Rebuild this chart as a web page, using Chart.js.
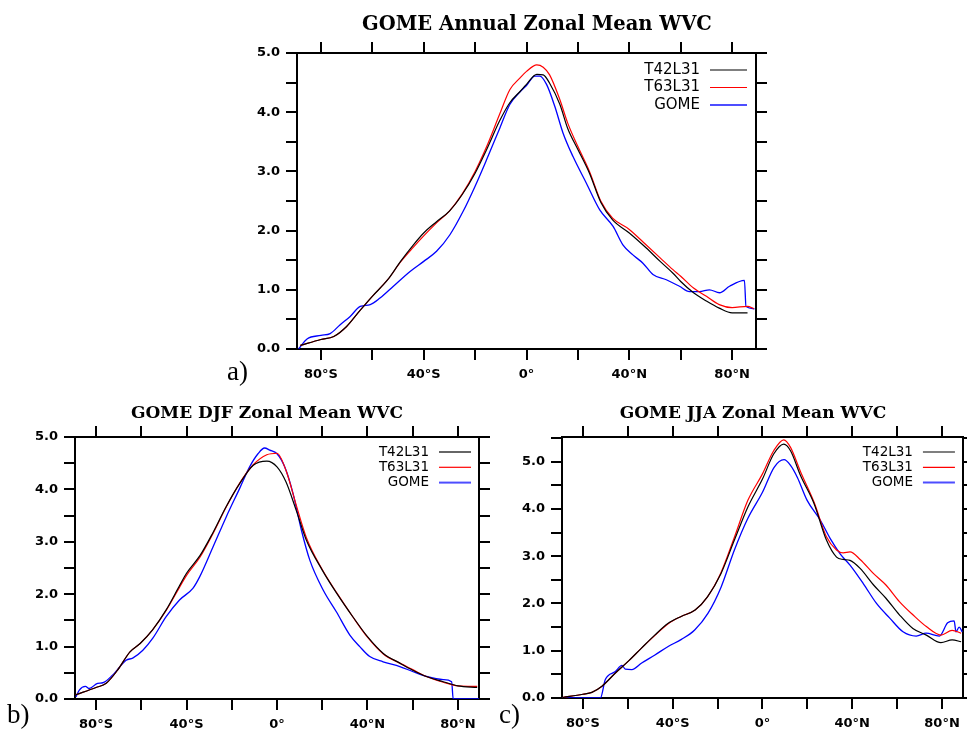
<!DOCTYPE html>
<html>
<head>
<meta charset="utf-8">
<script src="https://cdn.jsdelivr.net/npm/chart.js@4"></script>
<style>
  body { margin: 0; background: #fff; }
  #wrap { position: relative; width: 967px; height: 729px; }
  #wrap canvas { position: absolute; left: 0; top: 0; }
</style>
</head>
<body>
<div id="wrap">
  <canvas id="annual" width="967" height="729"></canvas>
  <canvas id="djf" width="967" height="729"></canvas>
  <canvas id="jja" width="967" height="729"></canvas>
</div>
<script>
// zonal mean water vapour column, latitude in degrees (S negative)
const annLat = [-88, -80, -75, -70, -65, -60, -54, -49, -44, -40, -35, -30, -25, -20, -15.5, -10.5, -6.5, -2.5, 0, 4, 6.5, 9, 13, 16, 20, 24.5, 29, 33.5, 40, 46.5, 52, 57, 60, 65, 70, 75, 80, 86, 88.5];
const annT42 = [0.06, 0.16, 0.21, 0.38, 0.64, 0.89, 1.17, 1.48, 1.76, 1.96, 2.15, 2.33, 2.61, 2.97, 3.37, 3.85, 4.16, 4.35, 4.47, 4.64, 4.63, 4.49, 4.13, 3.73, 3.37, 2.97, 2.47, 2.18, 1.96, 1.71, 1.48, 1.28, 1.14, 0.95, 0.81, 0.69, 0.61, 0.61, null];
const annT63 = [0.06, 0.16, 0.21, 0.38, 0.64, 0.89, 1.17, 1.47, 1.72, 1.91, 2.13, 2.33, 2.62, 3.00, 3.42, 3.96, 4.38, 4.58, 4.69, 4.80, 4.76, 4.63, 4.21, 3.82, 3.42, 3.00, 2.49, 2.21, 2.02, 1.76, 1.54, 1.34, 1.23, 1.03, 0.89, 0.75, 0.70, 0.72, 0.68];
const annGomeLat = [-88.7, -85.4, -80, -76.4, -72.5, -68.6, -64.7, -60.8, -57, -51.8, -45.3, -40, -35, -29.8, -24.6, -20, -15.5, -10.4, -6.5, -2.6, 0, 3.2, 5.2, 7.8, 11, 14.2, 18.1, 23.3, 28.5, 33.7, 37.5, 41.4, 45.3, 49.2, 54.4, 59.5, 63.4, 67.3, 71.2, 75.1, 79, 84.8, 85.4, 88.7];
const annGome = [0.0, 0.17, 0.23, 0.26, 0.41, 0.55, 0.72, 0.75, 0.86, 1.06, 1.31, 1.48, 1.65, 1.93, 2.33, 2.75, 3.20, 3.73, 4.13, 4.34, 4.45, 4.61, 4.61, 4.47, 4.10, 3.65, 3.25, 2.80, 2.35, 2.07, 1.76, 1.59, 1.45, 1.26, 1.17, 1.06, 0.97, 0.97, 1.00, 0.95, 1.06, 1.16, 0.72, 0.68];

const djfLat = [-89, -80, -75.5, -70.5, -65, -60.5, -55, -49, -43, -40, -34, -28.5, -22.5, -16.5, -10.5, -4.5, 0, 4, 8.5, 13, 20, 26.5, 33.5, 40, 47, 54.5, 60, 66, 73.5, 80, 88.5];
const djfT42 = [0.08, 0.22, 0.30, 0.55, 0.90, 1.06, 1.32, 1.70, 2.17, 2.40, 2.74, 3.16, 3.67, 4.11, 4.46, 4.54, 4.43, 4.14, 3.60, 3.03, 2.46, 2.01, 1.57, 1.19, 0.87, 0.68, 0.55, 0.43, 0.33, 0.25, 0.22];
const djfT63 = [0.08, 0.22, 0.30, 0.55, 0.90, 1.06, 1.32, 1.69, 2.14, 2.36, 2.71, 3.14, 3.66, 4.12, 4.47, 4.66, 4.69, 4.36, 3.70, 3.08, 2.47, 2.02, 1.57, 1.18, 0.86, 0.68, 0.56, 0.43, 0.32, 0.25, 0.24];
const djfGomeLat = [-88.9, -87.4, -84.7, -83, -79.3, -77, -72.6, -66.7, -63.8, -59.3, -54.9, -49, -43.1, -37.2, -34.2, -28.3, -22.4, -16.5, -12.1, -8.4, -5.5, -3.2, 0, 3.4, 7.1, 10.8, 14.5, 20.4, 26.3, 32.2, 36.6, 41, 46.9, 54.3, 60.2, 66.1, 73.5, 77.2, 77.9, 89.4];
const djfGome = [0.04, 0.17, 0.24, 0.20, 0.30, 0.31, 0.46, 0.74, 0.78, 0.93, 1.16, 1.57, 1.89, 2.11, 2.33, 2.90, 3.48, 4.02, 4.43, 4.68, 4.79, 4.75, 4.68, 4.43, 3.92, 3.22, 2.65, 2.08, 1.66, 1.22, 1.00, 0.81, 0.71, 0.62, 0.52, 0.43, 0.37, 0.33, 0.0, 0.0];

const jjaLat = [-89, -80, -76, -71.5, -65.5, -59.5, -54, -48, -42, -36, -30, -24.5, -18.5, -12.5, -6.5, 0, 5, 9.5, 12.5, 17, 23, 28.5, 33, 36, 39, 43.5, 49.5, 55, 61, 67, 73, 79.5, 84.5, 88.5];
const jjaT42 = [0.01, 0.08, 0.12, 0.25, 0.53, 0.79, 1.05, 1.33, 1.58, 1.73, 1.86, 2.14, 2.63, 3.34, 4.04, 4.63, 5.16, 5.37, 5.23, 4.70, 4.11, 3.34, 2.98, 2.93, 2.91, 2.74, 2.39, 2.11, 1.76, 1.47, 1.33, 1.17, 1.23, 1.19];
const jjaT63 = [0.01, 0.08, 0.12, 0.25, 0.53, 0.79, 1.05, 1.32, 1.57, 1.73, 1.86, 2.14, 2.65, 3.40, 4.18, 4.74, 5.23, 5.46, 5.30, 4.78, 4.14, 3.41, 3.13, 3.07, 3.09, 2.93, 2.63, 2.39, 2.04, 1.76, 1.51, 1.33, 1.43, 1.37];
const jjaGomeLat = [-89, -72.2, -70, -65.5, -62.6, -61.1, -58.2, -53.8, -47.9, -42, -36.1, -30.2, -24.3, -18.4, -12.5, -6.6, 0, 5.2, 9.6, 12.5, 15.5, 19.9, 25.8, 30.2, 34.6, 39, 44.9, 50.8, 56.7, 62.6, 68.5, 72.9, 78.8, 82.5, 85.4, 86.2, 87.6, 89];
const jjaGome = [0, 0, 0.39, 0.56, 0.69, 0.61, 0.60, 0.74, 0.91, 1.09, 1.24, 1.44, 1.79, 2.35, 3.13, 3.79, 4.35, 4.88, 5.04, 4.92, 4.67, 4.18, 3.76, 3.37, 3.05, 2.81, 2.42, 2.00, 1.69, 1.40, 1.31, 1.37, 1.31, 1.59, 1.63, 1.40, 1.50, 1.40];

const latTicks = [-80, -60, -40, -20, 0, 20, 40, 60, 80];
const seriesNames = ["T42L31", "T63L31", "GOME"];
const seriesColors = ["#000000", "#ff0000", "#0000ff"];

const W = 967, H = 729;
const tickFont = { family: "DejaVu Sans", size: 13, weight: "bold" };

function latLabel(v) {
  if (v === 0) return "0\u00b0";
  return Math.abs(v) + "\u00b0" + (v < 0 ? "S" : "N");
}

function pts(lat, vals) {
  return lat.map((x, i) => ({ x: x, y: vals[i] }));
}

function halfSteps(max) {
  const out = [];
  for (let i = 0; i * 0.5 <= max + 1e-9; i++) out.push({ value: i * 0.5 });
  return out;
}

// titles, panel letters and the little line legend
const panelText = {
  id: "panelText",
  afterDraw(chart, args, o) {
    const ctx = chart.ctx;
    const a = chart.chartArea;
    ctx.save();
    ctx.fillStyle = "#000";
    ctx.textAlign = "center";
    ctx.textBaseline = "alphabetic";
    ctx.font = o.titleFont;
    ctx.fillText(o.title, o.titleX, o.titleY);

    ctx.textAlign = "left";
    ctx.font = '27px "Liberation Serif"';
    ctx.fillText(o.letter, o.letterX, o.letterY);

    ctx.font = o.legendFont;
    ctx.textAlign = "right";
    ctx.textBaseline = "middle";
    seriesNames.forEach((name, i) => {
      const y = a.top + o.legendTop + i * o.legendStep;
      ctx.fillStyle = "#000";
      ctx.fillText(name, a.right - o.legendInset - o.legendLen - 10, y);
      ctx.strokeStyle = i === 2 ? "#4d4dff" : seriesColors[i];
      ctx.lineWidth = i === 2 ? 2 : 1.2;
      ctx.beginPath();
      ctx.moveTo(a.right - o.legendInset - o.legendLen, y);
      ctx.lineTo(a.right - o.legendInset, y);
      ctx.stroke();
    });
    ctx.restore();
  }
};

function frameAxis(position, extra) {
  return Object.assign({
    type: "linear",
    position: position,
    grid: { drawOnChartArea: false, drawTicks: true, tickLength: 11, lineWidth: 2, color: "#000" },
    border: { display: true, width: 2, color: "#000" }
  }, extra);
}

function makePanel(id, box, ymax, series, text) {
  const yw = 50, xh = 30;
  const xCommon = {
    min: -89.3, max: 89.3,
    afterBuildTicks: s => { s.ticks = latTicks.map(v => ({ value: v })); }
  };
  const yCommon = {
    min: 0, max: ymax,
    afterBuildTicks: s => { s.ticks = halfSteps(ymax); }
  };
  new Chart(document.getElementById(id), {
    type: "line",
    data: {
      datasets: series.map((s, i) => ({
        label: seriesNames[i],
        data: pts(s[0], s[1]),
        borderColor: seriesColors[i],
        borderWidth: i === 2 ? 1.3 : 1.2,
        pointRadius: 0,
        cubicInterpolationMode: "monotone",
        spanGaps: false,
        fill: false
      }))
    },
    options: {
      responsive: false,
      animation: false,
      devicePixelRatio: 1,
      layout: {
        padding: { left: box.left - yw, right: W - box.right, top: box.top, bottom: H - box.bottom - xh }
      },
      scales: {
        x: frameAxis("bottom", Object.assign({}, xCommon, {
          ticks: { autoSkip: false, maxRotation: 0, padding: 7, color: "#000", font: tickFont,
                   callback: v => (v % 40 === 0 ? latLabel(v) : "") },
          afterFit: s => { s.height = xh; }
        })),
        xTop: frameAxis("top", Object.assign({}, xCommon, {
          ticks: { display: false },
          afterFit: s => { s.height = 0; }
        })),
        y: frameAxis("left", Object.assign({}, yCommon, {
          ticks: { autoSkip: false, padding: 6, color: "#000", font: tickFont,
                   callback: v => (Number.isInteger(v) ? v.toFixed(1) : "") },
          afterFit: s => { s.width = yw; }
        })),
        yRight: frameAxis("right", Object.assign({}, yCommon, {
          ticks: { display: false },
          afterFit: s => { s.width = 0; }
        }))
      },
      plugins: {
        legend: { display: false },
        tooltip: { enabled: false },
        panelText: text
      }
    },
    plugins: [panelText]
  });
}

makePanel("annual", { left: 297, right: 756, top: 53, bottom: 349 }, 5.0,
  [[annLat, annT42], [annLat, annT63], [annGomeLat, annGome]],
  { title: "GOME Annual Zonal Mean WVC", titleFont: 'bold 19.5px "DejaVu Serif"', titleX: 537, titleY: 30,
    letter: "a)", letterX: 227, letterY: 380,
    legendFont: '15px "DejaVu Sans"', legendTop: 17, legendStep: 17.5, legendInset: 9, legendLen: 37 });

makePanel("djf", { left: 75, right: 479, top: 437, bottom: 699 }, 5.0,
  [[djfLat, djfT42], [djfLat, djfT63], [djfGomeLat, djfGome]],
  { title: "GOME DJF Zonal Mean WVC", titleFont: 'bold 17px "DejaVu Serif"', titleX: 267, titleY: 418,
    letter: "b)", letterX: 7, letterY: 723,
    legendFont: '13.5px "DejaVu Sans"', legendTop: 15, legendStep: 15.3, legendInset: 8, legendLen: 32 });

makePanel("jja", { left: 562, right: 965, top: 437, bottom: 698 }, 5.52,
  [[jjaLat, jjaT42], [jjaLat, jjaT63], [jjaGomeLat, jjaGome]],
  { title: "GOME JJA Zonal Mean WVC", titleFont: 'bold 17px "DejaVu Serif"', titleX: 753, titleY: 418,
    letter: "c)", letterX: 499, letterY: 723,
    legendFont: '13.5px "DejaVu Sans"', legendTop: 15, legendStep: 15.3, legendInset: 8, legendLen: 32 });
</script>
</body>
</html>
